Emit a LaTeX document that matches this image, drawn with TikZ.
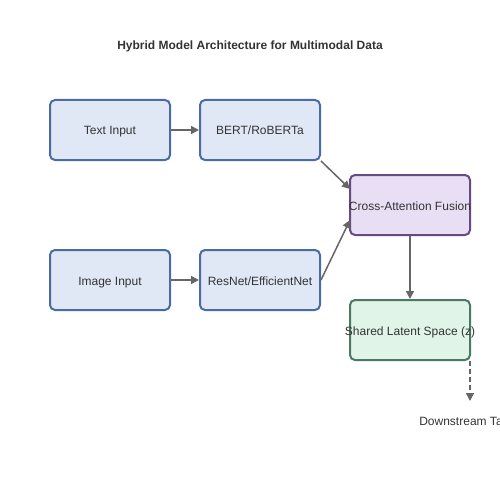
\documentclass[tikz,border=0pt]{standalone}
\usepackage{fontspec}
\setmainfont{Liberation Sans}
\usetikzlibrary{arrows.meta}
\definecolor{txt}{HTML}{333333}
\definecolor{bfill}{HTML}{E0E7F5}
\definecolor{bdraw}{HTML}{4A6BA6}
\definecolor{pfill}{HTML}{E8DFF4}
\definecolor{pdraw}{HTML}{664A85}
\definecolor{gfill}{HTML}{E0F4E8}
\definecolor{gdraw}{HTML}{4A7A66}
\definecolor{arr}{HTML}{666666}
\newcommand{\ctext}[1]{\makebox[0pt]{#1}}
\begin{document}
\begin{tikzpicture}[x=1pt,y=-1pt,
  box/.style={draw, line width=2pt, rounded corners=5pt, minimum width=120pt, minimum height=60pt, inner sep=0pt, text height=10pt, text depth=0pt, text=txt, font=\fontsize{12}{14}\selectfont},
  bluebox/.style={box, fill=bfill, draw=bdraw},
  purplebox/.style={box, fill=pfill, draw=pdraw},
  greenbox/.style={box, fill=gfill, draw=gdraw},
  conn/.style={draw=arr, line width=1.5pt, -{Triangle[length=8pt,width=8pt]}},
  lbl/.style={text=txt, font=\fontsize{12}{14}\selectfont, inner sep=0pt}]
\useasboundingbox (0,0) rectangle (500,500);
\clip (0,0) rectangle (500,500);
\node[text=txt, font=\bfseries\fontsize{12}{14}\selectfont] (title) at (250,46) {Hybrid Model Architecture for Multimodal Data};
\node[bluebox] (text) at (110,130) {\ctext{Text Input}};
\node[bluebox] (bert) at (260,130) {\ctext{BERT/RoBERTa}};
\node[bluebox] (image) at (110,280) {\ctext{Image Input}};
\node[bluebox] (resnet) at (260,280) {\ctext{ResNet/EfficientNet}};
\node[purplebox] (cross) at (410,205) {\ctext{Cross-Attention Fusion}};
\node[greenbox] (shared) at (410,330) {\ctext{Shared Latent Space (z)}};
\node[lbl] (down) at (470,421) {Downstream Tasks};
\coordinate (dstart) at (470,361);
\coordinate (dend) at (470,401);
\draw[conn] (text) -- (bert);
\draw[conn] (image) -- (resnet);
\draw[conn] (bert.south east) -- (350,189);
\draw[conn] (resnet.east) -- (350,220);
\draw[conn] (cross) -- (shared);
\draw[conn, dash pattern=on 5pt off 3pt] (dstart) -- (dend);
\end{tikzpicture}
\end{document}
